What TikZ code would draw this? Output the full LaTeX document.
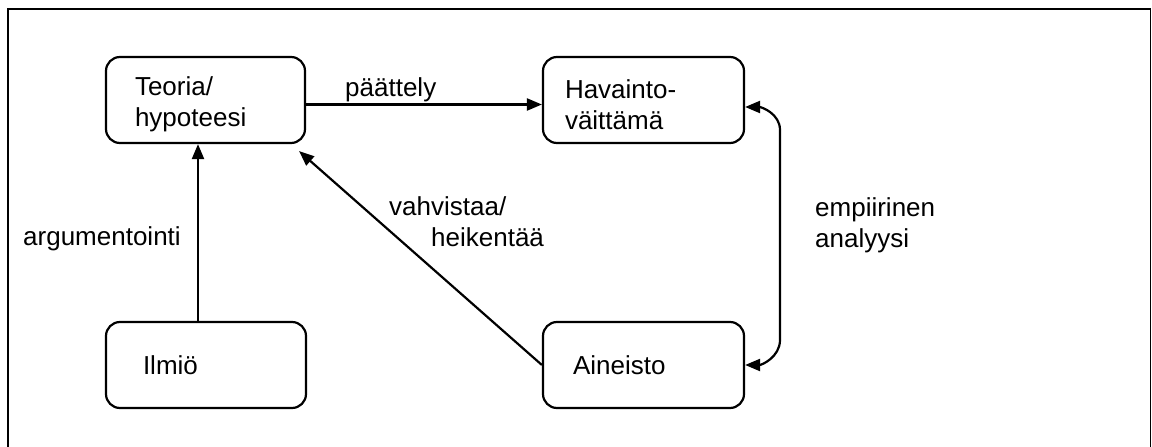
\documentclass[tikz,border=0pt]{standalone}
\usepackage{fontspec}
\setmainfont{Liberation Sans}
\usetikzlibrary{arrows.meta}
\begin{document}
\begin{tikzpicture}[x=1pt,y=-1pt,
  font=\fontsize{26}{31}\selectfont,
  box/.style={draw, line width=2.2pt, rounded corners=14pt, align=left, minimum height=86pt, inner ysep=0pt},
  lbl/.style={anchor=base west, inner sep=0pt, align=left},
  conn/.style={line width=2.2pt, -{Triangle[length=15pt,width=12pt]}}]
\useasboundingbox (0,0) rectangle (1152,447);
\draw[line width=1.6pt] (8,447) -- (8,9) -- (1150.5,9) -- (1150.5,447);

\node[box, inner xsep=29pt, text width=141pt] (teo) at (205.5,100) {\rule{0pt}{28pt}Teoria/\\hypoteesi};
\node[box, inner xsep=22pt, text width=157pt] (hav) at (643.5,100) {\rule{0pt}{28pt}Havainto-\\väittämä};
\node[box, inner xsep=37pt, text width=126pt] (ilm) at (206,365) {Ilmiö};
\node[box, inner xsep=30pt, text width=141pt] (ain) at (643.5,365) {Aineisto};

\node[lbl] (l1) at (345,96) {päättely};
\node[lbl] (l2) at (23,245) {argumentointi};
\node[lbl] (l3) at (389,246) {vahvistaa/\\\hspace*{42pt}heikentää};
\node[lbl] (l4) at (815,247) {empiirinen\\analyysi};

\draw[conn] ([yshift=-4.5pt]teo.east) -- ([yshift=-4.5pt]hav.west);
\draw[conn] ([xshift=-8pt]ilm.north) -- ([xshift=-7.5pt]teo.south);
\draw[conn] (ain.west) -- ([xshift=-7pt,yshift=-7pt]teo.south east);
\draw[line width=2.2pt, {Triangle[length=15pt,width=12pt]}-{Triangle[length=15pt,width=12pt]}]
  ([yshift=-7pt]hav.east) to[out=0,in=90] (780,130) -- (780,340) to[out=-90,in=0] (ain.east);
\end{tikzpicture}
\end{document}
